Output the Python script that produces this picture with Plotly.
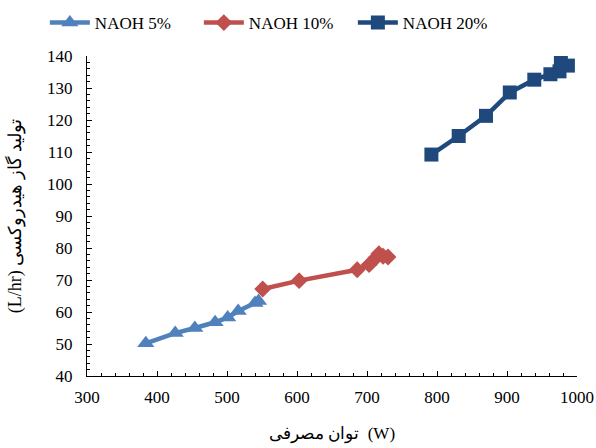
import plotly.graph_objects as go

# NAOH 5%
x5 = [384, 426, 454, 483, 501, 516, 540, 545]
y5 = [50.2, 53.4, 55.0, 56.8, 58.3, 60.3, 62.8, 63.4]
# NAOH 10%
x10 = [551, 603, 686, 703, 713, 717, 723, 730]
y10 = [67.2, 69.8, 73.2, 74.8, 77.0, 78.2, 77.4, 77.2]
# NAOH 20%
x20 = [792, 831, 870, 904, 939, 962, 975, 977, 987]
y20 = [109.2, 115.0, 121.3, 128.6, 132.6, 134.3, 135.2, 138.0, 137.0]

names = ["NAOH 5%", "NAOH 10%", "NAOH 20%"]
colors = ["#4F81BD", "#C0504D", "#1F497D"]
symbols = ["triangle-up", "diamond", "square"]
sizes = [15, 13, 14]

xtitle = "توان مصرفی  (W)"
ytitle = "(L/hr) تولید گاز هیدروکسی"

fig = go.Figure()
for xs, ys, n, c, s, sz in zip([x5, x10, x20], [y5, y10, y20], names, colors, symbols, sizes):
    fig.add_trace(go.Scatter(
        x=xs, y=ys, name=n, mode="lines+markers",
        line=dict(color=c, width=4.5),
        marker=dict(symbol=s, size=sz, color=c),
    ))

font_family = "Liberation Serif, Times New Roman, DejaVu Serif, serif"
fig.update_layout(
    width=596, height=448,
    margin=dict(l=87, r=19, t=56, b=72, autoexpand=False),
    paper_bgcolor="white", plot_bgcolor="white",
    font=dict(family=font_family, size=17, color="black"),
    showlegend=True,
    legend=dict(orientation="h", x=-0.086, xanchor="left", y=1.103, yanchor="middle",
                font=dict(size=17), itemwidth=40, entrywidth=99,
                bgcolor="rgba(0,0,0,0)"),
)
fig.update_xaxes(
    range=[300, 1000], dtick=100, tick0=300,
    showline=True, linecolor="black", linewidth=1,
    ticks="inside", ticklen=5, tickcolor="black",
    ticklabelstandoff=6,
    minor=dict(dtick=20, ticks="inside", ticklen=3, tickcolor="black"),
    showgrid=False, zeroline=False, automargin=False,
    title=dict(text=xtitle, font=dict(size=17), standoff=20),
)
fig.update_yaxes(
    range=[40, 140], dtick=10,
    showline=True, linecolor="black", linewidth=1,
    ticks="inside", ticklen=5, tickcolor="black",
    ticklabelstandoff=10,
    minor=dict(dtick=2, ticks="inside", ticklen=3, tickcolor="black"),
    showgrid=False, zeroline=False, automargin=False,
    title=dict(text=ytitle, font=dict(size=18), standoff=20),
)

fig.write_html("out.html")
